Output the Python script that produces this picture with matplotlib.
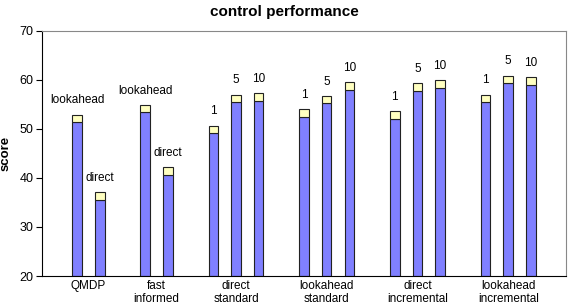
import matplotlib
matplotlib.use("Agg")
import matplotlib.pyplot as plt
import numpy as np

plt.rcParams["font.family"] = ["Liberation Sans", "DejaVu Sans"]

# group names (x labels) and bar labels
groups = ["QMDP", "fast\ninformed", "direct\nstandard", "lookahead\nstandard",
          "direct\nincremental", "lookahead\nincremental"]
bar_labels = [["lookahead", "direct"], ["lookahead", "direct"],
              ["1", "5", "10"], ["1", "5", "10"], ["1", "5", "10"], ["1", "5", "10"]]
# lower (blue) value and total (top of yellow cap) per bar
base = [[51.4, 35.5], [53.4, 40.6], [49.2, 55.5, 55.8],
        [52.5, 55.2, 58.0], [52.1, 57.8, 58.3], [55.5, 59.3, 59.0]]
total = [[52.9, 37.1], [54.8, 42.2], [50.7, 57.0, 57.3],
         [54.0, 56.7, 59.5], [53.6, 59.4, 60.0], [57.0, 60.9, 60.6]]

BLUE = "#8080ff"
YELLOW = "#ffffc0"
Y0 = 20

fig = plt.figure(figsize=(5.69, 3.06), dpi=100)
ax = fig.add_axes([0.0738, 0.098, 0.921, 0.801])

# slot positions: groups of bars separated by one empty slot
pos = 0
centers = []
for gi, (labs, b, t) in enumerate(zip(bar_labels, base, total)):
    xs = []
    for lab, bv, tv in zip(labs, b, t):
        ax.bar(pos, bv - Y0, bottom=Y0, width=0.42, color=BLUE,
               edgecolor="#222222", linewidth=0.8, zorder=2)
        ax.bar(pos, tv - bv, bottom=bv, width=0.42, color=YELLOW,
               edgecolor="#222222", linewidth=0.8, zorder=2)
        ax.annotate(lab, (pos, tv), xytext=(0, 6), textcoords="offset points",
                    ha="center", va="bottom", fontsize=8.5)
        xs.append(pos)
        pos += 1
    centers.append(np.mean(xs))
    pos += 1

ax.set_xlim(-1.55, pos - 1 + 0.55)
ax.set_ylim(20, 70)
ax.set_yticks([20, 30, 40, 50, 60, 70])
ax.set_xticks(centers)
ax.set_xticklabels(groups, fontsize=8.5, linespacing=1.1)
ax.tick_params(axis="x", length=0, pad=3)
ax.tick_params(axis="y", labelsize=9, length=4, width=0.8, direction="out",
               pad=2)
for s in ["top", "right"]:
    ax.spines[s].set_color("#888888")
    ax.spines[s].set_linewidth(0.8)
for s in ["left", "bottom"]:
    ax.spines[s].set_linewidth(0.8)

ax.set_ylabel("score", fontsize=9.5, fontweight="bold")
ax.yaxis.set_label_coords(-0.058, 0.5)
fig.suptitle("control performance", x=0.5, y=0.985, fontsize=11,
             fontweight="bold")

fig.savefig("out.png", dpi=100, facecolor="white")
